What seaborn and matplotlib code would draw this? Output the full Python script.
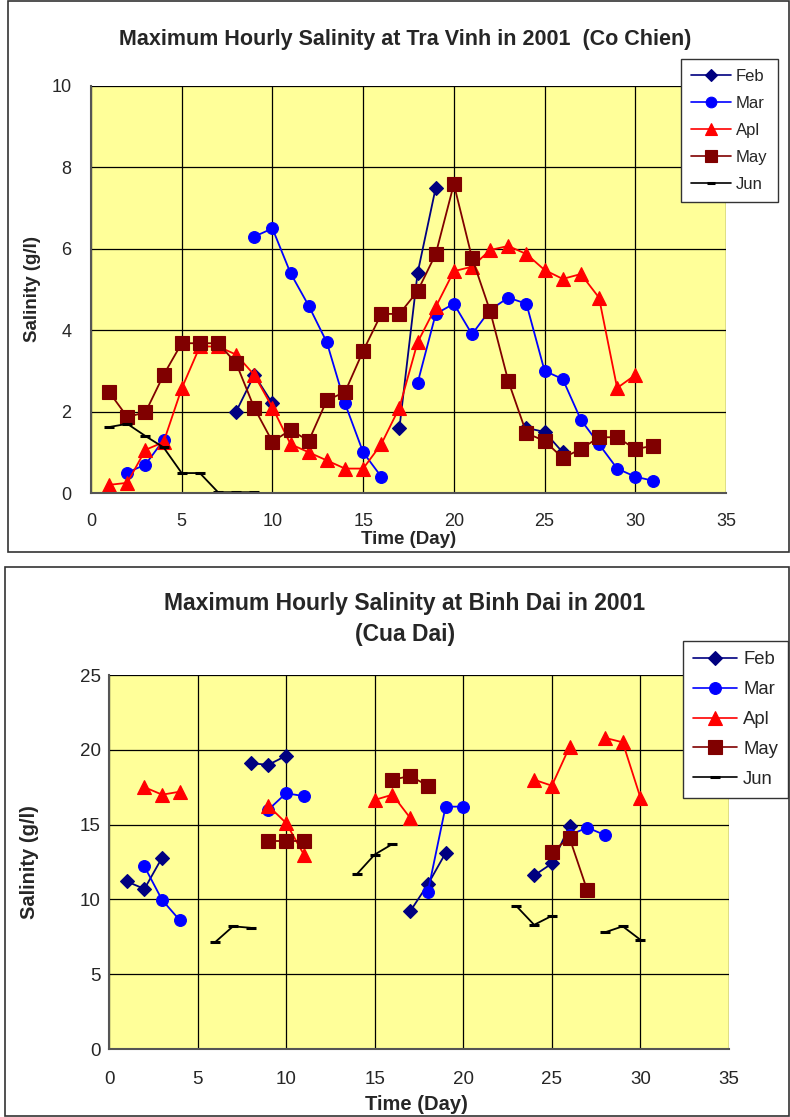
import numpy as np
import pandas as pd
import matplotlib
matplotlib.use("Agg")
import matplotlib.pyplot as plt
import seaborn as sns
from matplotlib.lines import Line2D
from matplotlib.patches import Rectangle

N = np.nan

# ---------------- data: Tra Vinh (Co Chien) ----------------
top_days = list(range(1, 32))
top_feb = [N, N, N, N, N, N, N, 2.0, 2.9, 2.2, N, N, N, N, N, N, 1.6, 5.4, 7.5, N,
           N, N, N, 1.6, 1.5, 1.0, N, N, N, N, N]
top_mar = [N, 0.5, 0.7, 1.3, N, N, N, N, 6.3, 6.5, 5.4, 4.6, 3.7, 2.2, 1.0, 0.4, N, 2.7, 4.4, 4.65,
           3.9, 4.5, 4.8, 4.65, 3.0, 2.8, 1.8, 1.2, 0.6, 0.4, 0.3]
top_apl = [0.2, 0.25, 1.06, 1.25, 2.57, 3.6, 3.6, 3.4, 2.9, 2.1, 1.2, 1.0, 0.8, 0.6, 0.6, 1.2, 2.1, 3.7, 4.57, 5.45,
           5.56, 5.97, 6.07, 5.87, 5.48, 5.26, 5.38, 4.8, 2.58, 2.9, N]
top_may = [2.48, 1.87, 1.98, 2.9, 3.68, 3.68, 3.68, 3.19, 2.09, 1.26, 1.55, 1.28, 2.28, 2.48, 3.49, 4.4, 4.4, 4.96, 5.87, 7.59,
           5.78, 4.47, 2.75, 1.47, 1.28, 0.86, 1.08, 1.37, 1.37, 1.08, 1.16]
top_jun = [1.62, 1.7, 1.4, 1.12, 0.49, 0.49, 0.02, 0.02, 0.02, N, N, N, N, N, N, N, N, N, N, N,
           N, N, N, N, N, N, N, N, N, N, N]

# ---------------- data: Binh Dai (Cua Dai) ----------------
bot_days = list(range(1, 31))
bot_feb = [11.2, 10.7, 12.8, N, N, N, N, 19.1, 19.0, 19.6, N, N, N, N, N, N, 9.2, 11.0, 13.1, N,
           N, N, N, 11.6, 12.4, 14.9, N, N, N, N]
bot_mar = [N, 12.2, 9.96, 8.6, N, N, N, N, 16.0, 17.1, 16.9, N, N, N, N, N, N, 10.5, 16.2, 16.2,
           N, N, N, N, N, 14.3, 14.8, 14.3, N, N]
bot_apl = [N, 17.5, 17.0, 17.2, N, N, N, N, 16.25, 15.1, 13.0, N, N, N, 16.65, 17.0, 15.45, N, N, N,
           N, N, N, 18.0, 17.6, 20.2, N, 20.8, 20.5, 16.8]
bot_may = [N, N, N, N, N, N, N, N, 13.9, 13.9, 13.9, N, N, N, N, 18.0, 18.25, 17.6, N, N,
           N, N, N, N, 13.2, 14.1, 10.6, N, N, N]
bot_jun = [N, N, N, N, N, 7.15, 8.2, 8.1, N, N, N, N, N, 11.7, 13.0, 13.7, N, N, N, N,
           N, N, 9.55, 8.3, 8.9, N, N, 7.8, 8.2, 7.3]

months = ["Feb", "Mar", "Apl", "May", "Jun"]
colors = {"Feb": "#000080", "Mar": "#0000FF", "Apl": "#FF0000", "May": "#800000", "Jun": "#000000"}
markers = {"Feb": "D", "Mar": "o", "Apl": "^", "May": "s", "Jun": "_"}
msizes = {"Feb": 7, "Mar": 8.5, "Apl": 10, "May": 9.5, "Jun": 7}


def segment_frame(days, values):
    d = pd.DataFrame({"day": days, "val": values})
    d["seg"] = d["val"].isna().cumsum()
    return d.dropna()


def draw_panel(ax, days, series, ylim, yticks, tick_fs, xpad, ypad):
    ax.set_facecolor("#FFFF99")
    for m, vals in zip(months, series):
        df = segment_frame(days, vals)
        mew = 2.2 if m == "Jun" else 0.8
        sns.lineplot(data=df, x="day", y="val", units="seg", estimator=None, ax=ax,
                     color=colors[m], marker=markers[m], markersize=msizes[m],
                     markeredgecolor=colors[m], markeredgewidth=mew,
                     linewidth=1.3, legend=False, sort=False)
    ax.set_xlim(0, 35)
    ax.set_ylim(*ylim)
    ax.set_xticks(range(0, 36, 5))
    ax.set_yticks(yticks)
    ax.grid(True, color="black", linewidth=0.9)
    ax.set_axisbelow(True)
    for s in ["top", "right"]:
        ax.spines[s].set_visible(False)
    for s in ["left", "bottom"]:
        ax.spines[s].set_color("#555555")
        ax.spines[s].set_linewidth(1.5)
    ax.tick_params(axis="both", labelsize=tick_fs, length=3, color="#555555")
    ax.tick_params(axis="x", pad=xpad)
    ax.tick_params(axis="y", pad=ypad)


sns.set_theme(style="white")
plt.rcParams["font.family"] = ["Liberation Sans", "DejaVu Sans"]

fig = plt.figure(figsize=(7.9, 11.17), dpi=100)
W, H = 790, 1117

def fax(l, t, r, b):
    return fig.add_axes([l / W, 1 - b / H, (r - l) / W, (b - t) / H])

# panel borders
fig.add_artist(Rectangle((8 / W, 1 - 552 / H), 781 / W, 551 / H, transform=fig.transFigure,
                         fill=False, edgecolor="#333333", linewidth=1.2))
fig.add_artist(Rectangle((5 / W, 0.0005), 784 / W, (1117 - 568) / H, transform=fig.transFigure,
                         fill=False, edgecolor="#333333", linewidth=1.2))

# ---------- top panel ----------
ax1 = fax(91, 86, 726, 493)
draw_panel(ax1, top_days, [top_feb, top_mar, top_apl, top_may, top_jun],
           (0, 10), range(0, 11, 2), 13, 11.5, 11)
ax1.set_xlabel("Time (Day)", fontsize=13.5, fontweight="bold")
ax1.set_ylabel("Salinity (g/l)", fontsize=13.5, fontweight="bold")
ax1.xaxis.set_label_coords((409 - 91) / 635, (493 - 531) / 407)
ax1.yaxis.set_label_coords((41 - 91) / 635, 0.5)
fig.text(405 / W, 1 - 40 / H, "Maximum Hourly Salinity at Tra Vinh in 2001  (Co Chien)",
         ha="center", va="center", fontsize=15.5, fontweight="bold")

# ---------- bottom panel ----------
ax2 = fax(109, 675, 729, 1049)
draw_panel(ax2, bot_days, [bot_feb, bot_mar, bot_apl, bot_may, bot_jun],
           (0, 25), range(0, 26, 5), 13.5, 13, 3)
ax2.set_xlabel("Time (Day)", fontsize=14.5, fontweight="bold")
ax2.set_ylabel("Salinity (g/l)", fontsize=14.5, fontweight="bold")
ax2.xaxis.set_label_coords((416 - 109) / 620, (1049 - 1095) / 374)
ax2.yaxis.set_label_coords((39 - 109) / 620, 0.5)
fig.text(405 / W, 1 - 604 / H, "Maximum Hourly Salinity at Binh Dai in 2001",
         ha="center", va="center", fontsize=16.5, fontweight="bold")
fig.text(405 / W, 1 - 634 / H, "(Cua Dai)",
         ha="center", va="center", fontsize=16.5, fontweight="bold")


def make_handles(scale):
    hs = []
    for m in months:
        hs.append(Line2D([0], [0], color=colors[m], marker=markers[m],
                         markersize=msizes[m] * scale, markeredgecolor=colors[m],
                         markeredgewidth=2.2 if m == "Jun" else 0.8, linewidth=1.2, label=m))
    return hs


leg1 = fig.legend(handles=make_handles(0.9), loc="upper left",
                  bbox_to_anchor=(681 / W, 1 - 59 / H), fontsize=12, frameon=True,
                  fancybox=False, edgecolor="#333333", framealpha=1, borderpad=0.6,
                  labelspacing=0.72, handlelength=2.4, handletextpad=0.3, borderaxespad=0)
leg2 = fig.legend(handles=make_handles(1.0), loc="upper left",
                  bbox_to_anchor=(683 / W, 1 - 641 / H), fontsize=13.3, frameon=True,
                  fancybox=False, edgecolor="#333333", framealpha=1, borderpad=0.55,
                  labelspacing=0.7, handlelength=2.4, handletextpad=0.3, borderaxespad=0)

fig.savefig("out.png", dpi=100)
